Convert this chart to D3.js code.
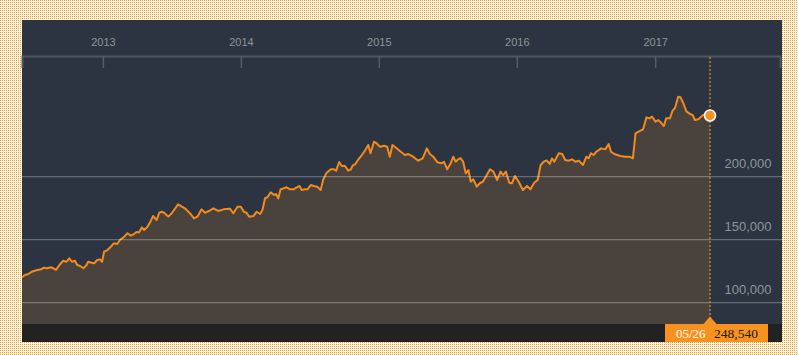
<!DOCTYPE html>
<html>
<head>
<meta charset="utf-8">
<script src="https://cdnjs.cloudflare.com/ajax/libs/d3/7.8.5/d3.min.js"></script>
<style>
  body { margin: 0; padding: 0; background: #fff; }
  svg { display: block; }
  .axis text { font-family: "Liberation Sans", Arial, Helvetica, sans-serif; }
</style>
</head>
<body>
<script>
// Closing values (roughly weekly)
var dates = [
	"2012-06-01","2012-06-09","2012-06-18","2012-06-27","2012-07-05","2012-07-12","2012-07-21","2012-07-29","2012-08-07","2012-08-16",
	"2012-08-23","2012-08-30","2012-09-08","2012-09-18","2012-09-27","2012-10-04","2012-10-11","2012-10-19","2012-10-25","2012-11-02",
	"2012-11-10","2012-11-19","2012-11-23","2012-12-02","2012-12-09","2012-12-17","2012-12-24","2012-12-30",
	"2013-01-04","2013-01-13","2013-01-22","2013-01-30","2013-02-08","2013-02-15","2013-02-24","2013-03-07","2013-03-16","2013-03-24",
	"2013-03-31","2013-04-07","2013-04-14","2013-04-20","2013-04-29","2013-05-08","2013-05-14","2013-05-23","2013-05-30","2013-06-06",
	"2013-06-12","2013-06-23","2013-07-02","2013-07-19","2013-07-29","2013-08-06","2013-08-18","2013-08-30","2013-09-08","2013-09-19",
	"2013-09-28","2013-10-10","2013-10-20","2013-11-02","2013-11-16","2013-12-03","2013-12-12","2013-12-23",
	"2014-01-01","2014-01-09","2014-01-16","2014-01-23","2014-02-03","2014-02-12","2014-02-21","2014-02-27","2014-03-06","2014-03-12",
	"2014-03-21","2014-03-30","2014-04-04","2014-04-10","2014-04-16","2014-04-23","2014-05-02","2014-05-11","2014-05-20","2014-05-29",
	"2014-06-05","2014-06-11","2014-06-20","2014-06-26","2014-07-05","2014-07-13","2014-07-22","2014-07-31","2014-08-07","2014-08-16",
	"2014-08-27","2014-09-04","2014-09-10","2014-09-18","2014-09-25","2014-10-03","2014-10-12","2014-10-19","2014-10-24","2014-10-30",
	"2014-11-08","2014-11-17","2014-11-25","2014-12-04","2014-12-10","2014-12-19","2014-12-26",
	"2015-01-04","2015-01-15","2015-01-23","2015-01-30","2015-02-06","2015-02-17","2015-02-28","2015-03-11","2015-03-20","2015-04-02",
	"2015-04-15","2015-04-27","2015-05-08","2015-05-16","2015-05-25","2015-06-05","2015-06-16","2015-06-22","2015-07-01","2015-07-10",
	"2015-07-17","2015-07-23","2015-07-30","2015-08-05","2015-08-12","2015-08-19","2015-08-26","2015-09-01","2015-09-08","2015-09-17",
	"2015-09-25","2015-10-03","2015-10-11","2015-10-22","2015-10-31","2015-11-10","2015-11-19","2015-11-26","2015-12-03","2015-12-12",
	"2015-12-19","2015-12-27",
	"2016-01-06","2016-01-17","2016-01-28","2016-02-06","2016-02-16","2016-02-25","2016-03-04","2016-03-12","2016-03-20","2016-03-28",
	"2016-04-03","2016-04-09","2016-04-21","2016-04-30","2016-05-08","2016-05-17","2016-05-26","2016-06-04","2016-06-13","2016-06-24",
	"2016-07-03","2016-07-09","2016-07-15","2016-07-22","2016-07-29","2016-08-11","2016-08-22","2016-08-31","2016-09-06","2016-09-15",
	"2016-10-01","2016-10-14","2016-10-25","2016-11-03","2016-11-10","2016-11-18","2016-11-30","2016-12-09","2016-12-17","2016-12-24",
	"2017-01-02","2017-01-09","2017-01-18","2017-01-24","2017-01-30","2017-02-09","2017-02-16","2017-02-22","2017-03-03","2017-03-09",
	"2017-03-16","2017-03-25","2017-04-03","2017-04-10","2017-04-16","2017-04-25","2017-05-08","2017-05-17","2017-05-26"
];

var values = [
	120200,122000,122800,124600,125400,126000,126500,127800,127300,128100,
	127300,126000,129900,133300,132500,135200,132500,133300,129900,129100,
	127300,129900,132500,131700,131300,133900,134400,132500,
	140500,141800,144400,147100,146600,149800,151600,155100,153200,154500,
	156100,155900,159800,157700,160300,165100,168800,165600,171400,172200,
	171400,168300,171000,178100,176200,174900,171400,167000,168300,174100,
	171400,173000,174900,172800,174100,174600,171000,176200,
	176200,172200,171400,168300,168800,172200,170400,173600,182900,183700,
	187600,185500,186300,182900,190000,190600,191600,190000,190000,191600,
	192600,189400,190000,190000,193400,192600,192100,189400,197900,203200,
	205900,205900,204800,211700,208500,208700,204800,205900,209000,209800,
	213800,217200,220600,225200,218600,227800,226500,
	223800,224600,223800,215900,225200,222500,219800,217200,218000,215900,
	212700,214600,222500,218000,215900,211400,210600,211900,205900,210600,
	215900,211900,213800,214800,211900,202700,205300,196000,197900,192100,
	194800,196000,200000,205900,204000,197400,204000,201300,204000,195200,
	194800,200600,
	196000,189400,192600,190000,195200,197400,209300,211900,212900,210100,
	214600,211900,218600,218000,213300,212700,213800,211900,212700,209300,
	215900,214600,218600,217200,219800,222500,221700,226000,219800,218000,
	216400,215900,215900,214600,234400,235700,237600,247100,246300,247600,
	243700,245000,242400,240200,246300,246300,252400,254300,263500,263000,
	258700,251600,249800,249000,245000,245600,249000,249800,248540
];

// axis ticks
var year_ticks = ["2013-01-01", "2014-01-01", "2015-01-01", "2016-01-01", "2017-01-01"];
var value_ticks = [100000, 150000, 200000];

// page and panel sizes
var width = 798, height = 355;
var panel = {left: 22, top: 20, right: 782, bottom: 342};
var axis_y = 56;          // date axis line
var plot_bottom = 324;    // top of the dark footer strip
var last_x = 710;         // where the latest value sits
var axis_end = 780;

var parseDate = d3.timeParse("%Y-%m-%d");
var dataset = dates.map(function(d, i) {
	return {date: parseDate(d), value: values[i]};
});
var last = dataset[dataset.length - 1];

var svg = d3.select("body")
			.append("svg")
			.attr("width", width)
			.attr("height", height);

// dotted orange page background
var defs = svg.append("defs");
var pat = defs.append("pattern")
			.attr("id", "dots")
			.attr("width", 2)
			.attr("height", 2)
			.attr("patternUnits", "userSpaceOnUse");
pat.append("rect").attr("width", 2).attr("height", 2).attr("fill", "#fffaf0");
pat.append("rect").attr("width", 1).attr("height", 1).attr("fill", "#ff9a18");

svg.append("rect")
	.attr("width", width)
	.attr("height", height)
	.attr("fill", "url(#dots)");

// dark panel
svg.append("rect")
	.attr("x", panel.left)
	.attr("y", panel.top)
	.attr("width", panel.right - panel.left)
	.attr("height", panel.bottom - panel.top)
	.attr("fill", "#2b3440");

// scales
var xScale = d3.scaleTime()
				.domain([dataset[0].date, last.date])
				.range([panel.left, last_x]);

var yScale = d3.scaleLinear()
				.domain([100000, 200000])
				.range([302.7, 176.7]);

var clipId = "plotclip";
defs.append("clipPath").attr("id", clipId)
	.append("rect")
	.attr("x", panel.left)
	.attr("y", axis_y)
	.attr("width", panel.right - panel.left)
	.attr("height", plot_bottom - axis_y);

var plot = svg.append("g").attr("clip-path", "url(#" + clipId + ")");

// area under the line
var area = d3.area()
			.x(function(d) { return xScale(d.date); })
			.y0(plot_bottom)
			.y1(function(d) { return yScale(d.value); });

plot.append("path")
	.datum(dataset)
	.attr("d", area)
	.attr("fill", "#4a433d");

// horizontal grid lines over the area
svg.append("g")
	.selectAll("line")
	.data(value_ticks)
	.enter()
	.append("line")
	.attr("x1", panel.left)
	.attr("x2", panel.right)
	.attr("y1", function(d) { return yScale(d); })
	.attr("y2", function(d) { return yScale(d); })
	.attr("stroke", "rgba(255,255,255,0.28)")
	.attr("stroke-width", 1.2);

// value labels on the right
svg.append("g")
	.attr("class", "axis")
	.selectAll("text")
	.data(value_ticks)
	.enter()
	.append("text")
	.attr("x", 771.5)
	.attr("y", function(d) { return yScale(d) - 8.5; })
	.attr("text-anchor", "end")
	.attr("fill", "#8e949b")
	.style("font-size", "13px")
	.text(d3.format(","));

// bottom strip
svg.append("rect")
	.attr("x", panel.left)
	.attr("y", plot_bottom)
	.attr("width", panel.right - panel.left)
	.attr("height", panel.bottom - plot_bottom)
	.attr("fill", "#222222");

// date axis on top, ticks hang down, labels above the line
var axisScale = xScale.copy()
				.domain([dataset[0].date, xScale.invert(axis_end)])
				.range([panel.left, axis_end]);

var xAxis = d3.axisBottom()
			.scale(axisScale)
			.tickValues(year_ticks.map(parseDate))
			.tickSize(12)
			.tickSizeOuter(12)
			.tickFormat(d3.timeFormat("%Y"));

var gx = svg.append("g")
			.attr("class", "axis")
			.attr("transform", "translate(0," + axis_y + ")")
			.call(xAxis);

gx.select(".domain")
	.attr("stroke", "#4e5660")
	.attr("stroke-width", 2);
gx.selectAll(".tick line")
	.attr("stroke", "#555d67")
	.attr("stroke-width", 1.5);
gx.selectAll(".tick text")
	.attr("y", -10)
	.attr("dy", 0)
	.attr("fill", "#8e949b")
	.style("font-size", "11px");

// price line
var line = d3.line()
			.x(function(d) { return xScale(d.date); })
			.y(function(d) { return yScale(d.value); });

plot.append("path")
	.datum(dataset)
	.attr("d", line)
	.attr("fill", "none")
	.attr("stroke", "#f28b1e")
	.attr("stroke-width", 2)
	.attr("stroke-linejoin", "round");

// marker for the latest value
var lx = xScale(last.date);
svg.append("line")
	.attr("x1", lx)
	.attr("x2", lx)
	.attr("y1", axis_y + 1)
	.attr("y2", plot_bottom - 6)
	.attr("stroke", "#c08424")
	.attr("stroke-width", 1.5)
	.attr("stroke-dasharray", "2,2");

svg.append("circle")
	.attr("cx", lx)
	.attr("cy", yScale(last.value))
	.attr("r", 5.5)
	.attr("fill", "#f7901e")
	.attr("stroke", "#ffffff")
	.attr("stroke-width", 1.6);

// readout box in the footer
var box = svg.append("g");
box.append("path")
	.attr("d", "M" + (lx - 7) + "," + (plot_bottom + 0.5) + "L" + lx + "," + (plot_bottom - 7.5) + "L" + (lx + 7) + "," + (plot_bottom + 0.5) + "Z")
	.attr("fill", "#f7921e");
box.append("rect")
	.attr("x", 665)
	.attr("y", plot_bottom)
	.attr("width", 103)
	.attr("height", panel.bottom - plot_bottom)
	.attr("fill", "#f7921e");
box.append("text")
	.attr("x", 676)
	.attr("y", 337.5)
	.attr("fill", "#ffffff")
	.style("font-family", "'Liberation Serif', 'Times New Roman', serif")
	.style("font-size", "13px")
	.text(d3.timeFormat("%m/%d")(last.date));
box.append("text")
	.attr("x", 714)
	.attr("y", 337.5)
	.attr("fill", "#1a1a1a")
	.style("font-family", "'Liberation Serif', 'Times New Roman', serif")
	.style("font-size", "13.5px")
	.text(d3.format(",")(last.value));
</script>
</body>
</html>
